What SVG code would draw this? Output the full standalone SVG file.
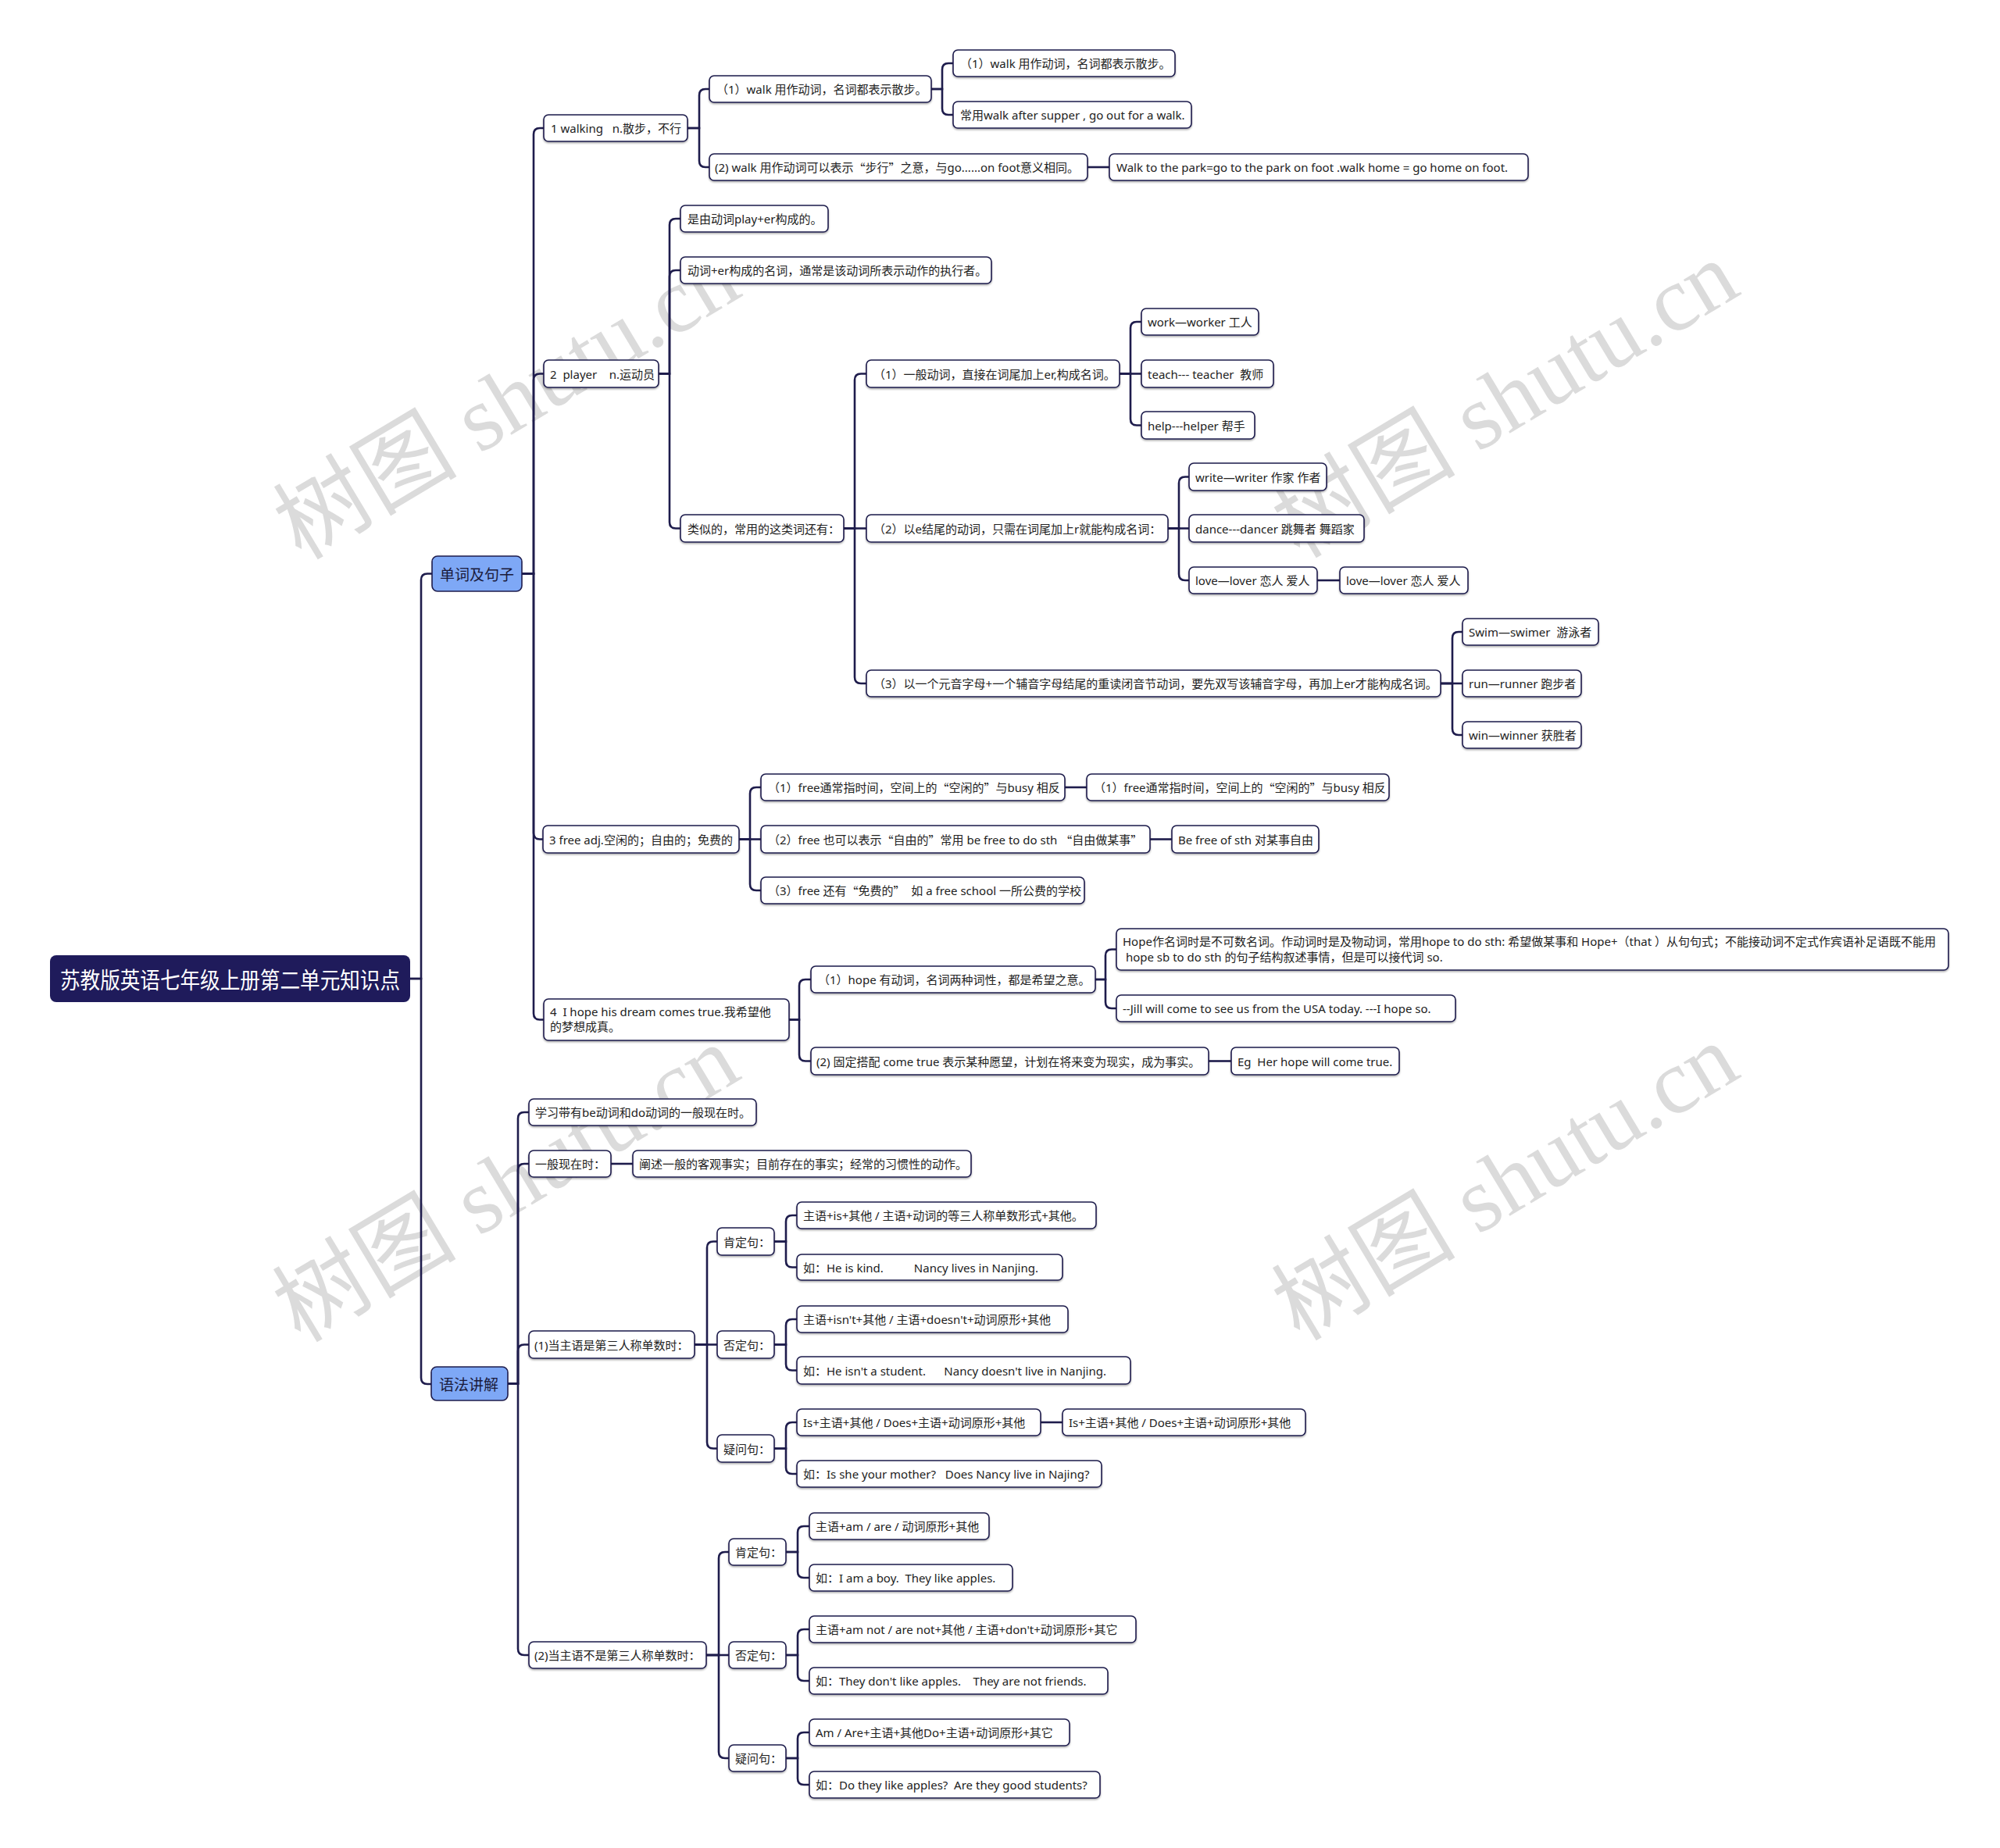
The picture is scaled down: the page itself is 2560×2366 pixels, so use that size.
<svg xmlns="http://www.w3.org/2000/svg" width="2560" height="2366" viewBox="0 0 2560 2366">
<defs>
<filter id="sh" x="-5%" y="-20%" width="110%" height="150%"><feDropShadow dx="0" dy="1.5" stdDeviation="1" flood-color="#000" flood-opacity="0.35"/></filter>
<style>
.n{fill:#fff;stroke:#1e1c4c;stroke-width:1.6;filter:url(#sh)}
.t{font-family:"Noto Sans","Noto Sans CJK SC",sans-serif;font-size:15px;fill:#222;dominant-baseline:central;white-space:pre}
.q{font-family:"Noto Sans CJK SC",sans-serif}
.c{fill:none;stroke:#1e1c4c;stroke-width:2.6}
.wm{font-family:"Liberation Serif","Noto Sans CJK SC",serif;font-size:118px;fill:#cfcfcf;opacity:0.75;text-anchor:middle;dominant-baseline:central}
</style>
</defs>
<rect width="2560" height="2366" fill="#fff"/>
<g id="watermarks">
<text class="wm" transform="translate(649,514) rotate(-31)">树图 shutu.cn</text>
<text class="wm" transform="translate(1927,512) rotate(-31)">树图 shutu.cn</text>
<text class="wm" transform="translate(648,1516) rotate(-31)">树图 shutu.cn</text>
<text class="wm" transform="translate(1927,1514) rotate(-31)">树图 shutu.cn</text>
</g>
<g id="connectors">
<path class="c" d="M525 1253 H539 V742.5 Q539 734.5 547 734.5 H553"/>
<path class="c" d="M525 1253 H539 V1764 Q539 1772 547 1772 H552"/>
<path class="c" d="M668 734.5 H683 V172 Q683 164 691 164 H696"/>
<path class="c" d="M668 734.5 H683 V486.5 Q683 478.5 691 478.5 H696"/>
<path class="c" d="M668 734.5 H683 V1066.5 Q683 1074.5 691 1074.5 H696"/>
<path class="c" d="M668 734.5 H683 V1297.5 Q683 1305.5 691 1305.5 H696"/>
<path class="c" d="M880 164 H895 V122 Q895 114 903 114 H908"/>
<path class="c" d="M880 164 H895 V206 Q895 214 903 214 H908"/>
<path class="c" d="M1192 114 H1206 V89 Q1206 81 1214 81 H1220"/>
<path class="c" d="M1192 114 H1206 V139 Q1206 147 1214 147 H1220"/>
<path class="c" d="M1392 214 H1420"/>
<path class="c" d="M843 478.5 H857 V288 Q857 280 865 280 H871"/>
<path class="c" d="M843 478.5 H857 V354 Q857 346 865 346 H871"/>
<path class="c" d="M843 478.5 H857 V668.5 Q857 676.5 865 676.5 H871"/>
<path class="c" d="M1080 676.5 H1094 V486.5 Q1094 478.5 1102 478.5 H1109"/>
<path class="c" d="M1080 676.5 H1109"/>
<path class="c" d="M1080 676.5 H1094 V867 Q1094 875 1102 875 H1109"/>
<path class="c" d="M1433 478.5 H1447 V420 Q1447 412 1455 412 H1461"/>
<path class="c" d="M1433 478.5 H1461"/>
<path class="c" d="M1433 478.5 H1447 V536.5 Q1447 544.5 1455 544.5 H1461"/>
<path class="c" d="M1495 676.5 H1509 V618.5 Q1509 610.5 1517 610.5 H1522"/>
<path class="c" d="M1495 676.5 H1522"/>
<path class="c" d="M1495 676.5 H1509 V735 Q1509 743 1517 743 H1522"/>
<path class="c" d="M1686 743 H1715"/>
<path class="c" d="M1844 875 H1859 V817 Q1859 809 1867 809 H1872"/>
<path class="c" d="M1844 875 H1872"/>
<path class="c" d="M1844 875 H1859 V933 Q1859 941 1867 941 H1872"/>
<path class="c" d="M946 1074.5 H960 V1016 Q960 1008 968 1008 H974"/>
<path class="c" d="M946 1074.5 H974"/>
<path class="c" d="M946 1074.5 H960 V1132 Q960 1140 968 1140 H974"/>
<path class="c" d="M1363 1008 H1391"/>
<path class="c" d="M1472 1074.5 H1500"/>
<path class="c" d="M1010 1305.5 H1023 V1262 Q1023 1254 1031 1254 H1038"/>
<path class="c" d="M1010 1305.5 H1023 V1350.5 Q1023 1358.5 1031 1358.5 H1038"/>
<path class="c" d="M1402 1254 H1415 V1223.5 Q1415 1215.5 1423 1215.5 H1429"/>
<path class="c" d="M1402 1254 H1415 V1283 Q1415 1291 1423 1291 H1429"/>
<path class="c" d="M1547 1358.5 H1576"/>
<path class="c" d="M650 1771.5 H663 V1432 Q663 1424 671 1424 H677"/>
<path class="c" d="M650 1771.5 H663 V1498 Q663 1490 671 1490 H677"/>
<path class="c" d="M650 1771.5 H663 V1729.5 Q663 1721.5 671 1721.5 H677"/>
<path class="c" d="M650 1771.5 H663 V2111 Q663 2119 671 2119 H677"/>
<path class="c" d="M782 1490 H810"/>
<path class="c" d="M889 1721.5 H905 V1597.5 Q905 1589.5 913 1589.5 H918"/>
<path class="c" d="M889 1721.5 H918"/>
<path class="c" d="M889 1721.5 H905 V1846.5 Q905 1854.5 913 1854.5 H918"/>
<path class="c" d="M991 1589.5 H1006 V1564 Q1006 1556 1014 1556 H1020"/>
<path class="c" d="M991 1589.5 H1006 V1614.5 Q1006 1622.5 1014 1622.5 H1020"/>
<path class="c" d="M991 1721.5 H1006 V1697 Q1006 1689 1014 1689 H1020"/>
<path class="c" d="M991 1721.5 H1006 V1746.5 Q1006 1754.5 1014 1754.5 H1020"/>
<path class="c" d="M991 1854.5 H1006 V1829 Q1006 1821 1014 1821 H1020"/>
<path class="c" d="M991 1854.5 H1006 V1879 Q1006 1887 1014 1887 H1020"/>
<path class="c" d="M1332 1821 H1360"/>
<path class="c" d="M904 2119 H920 V1995 Q920 1987 928 1987 H933"/>
<path class="c" d="M904 2119 H933"/>
<path class="c" d="M904 2119 H920 V2243 Q920 2251 928 2251 H933"/>
<path class="c" d="M1006 1987 H1021 V1962 Q1021 1954 1029 1954 H1036"/>
<path class="c" d="M1006 1987 H1021 V2012 Q1021 2020 1029 2020 H1036"/>
<path class="c" d="M1006 2119 H1021 V2094 Q1021 2086 1029 2086 H1036"/>
<path class="c" d="M1006 2119 H1021 V2144 Q1021 2152 1029 2152 H1036"/>
<path class="c" d="M1006 2251 H1021 V2226 Q1021 2218 1029 2218 H1036"/>
<path class="c" d="M1006 2251 H1021 V2277 Q1021 2285 1029 2285 H1036"/>
</g>
<g id="root"><rect x="64" y="1223" width="461" height="60" rx="8" fill="#1f1b5b"/><text x="77" y="1253" textLength="435" lengthAdjust="spacingAndGlyphs" style="font-family:'Noto Sans CJK SC',sans-serif;font-size:29px;fill:#fff;dominant-baseline:central">苏教版英语七年级上册第二单元知识点</text></g>
<g id="n-words"><rect x="553" y="712" width="115" height="45" rx="7" fill="#7ea8f6" stroke="#1e1c4c" stroke-width="1.6"/><text x="563" y="734.5" style="font-family:'Noto Sans CJK SC',sans-serif;font-size:19px;fill:#1a1a3a;dominant-baseline:central">单词及句子</text></g>
<g id="n-grammar"><rect x="552" y="1750" width="98" height="43" rx="7" fill="#7ea8f6" stroke="#1e1c4c" stroke-width="1.6"/><text x="562" y="1771.5" style="font-family:'Noto Sans CJK SC',sans-serif;font-size:19px;fill:#1a1a3a;dominant-baseline:central">语法讲解</text></g>

<g id="n-walking"><rect class="n" x="696" y="147" width="184" height="34" rx="6"/><text class="t" x="705" y="164">1 walking   n.散步，不行</text></g>
<g id="n-walk1"><rect class="n" x="908" y="97" width="284" height="34" rx="6"/><text class="t" x="917" y="114">（1）walk 用作动词，名词都表示散步。</text></g>
<g id="n-walk1a"><rect class="n" x="1220" y="64" width="284" height="34" rx="6"/><text class="t" x="1229" y="81">（1）walk 用作动词，名词都表示散步。</text></g>
<g id="n-walk1b"><rect class="n" x="1220" y="130" width="305" height="34" rx="6"/><text class="t" x="1229" y="147">常用walk after supper , go out for a walk.</text></g>
<g id="n-walk2"><rect class="n" x="908" y="197" width="484" height="34" rx="6"/><text class="t" x="915" y="214">(2) walk 用作动词可以表示<tspan class="q">“</tspan>步行<tspan class="q">”</tspan>之意，与go......on foot意义相同。</text></g>
<g id="n-walk2a"><rect class="n" x="1420" y="197" width="536" height="34" rx="6"/><text class="t" x="1429" y="214">Walk to the park=go to the park on foot .walk home = go home on foot.</text></g>

<g id="n-player"><rect class="n" x="696" y="461" width="147" height="35" rx="6"/><text class="t" x="704" y="478.5">2  player    n.运动员</text></g>
<g id="n-p1"><rect class="n" x="871" y="263" width="189" height="34" rx="6"/><text class="t" x="880" y="280">是由动词play+er构成的。</text></g>
<g id="n-p2"><rect class="n" x="871" y="329" width="398" height="34" rx="6"/><text class="t" x="880" y="346">动词+er构成的名词，通常是该动词所表示动作的执行者。</text></g>
<g id="n-p3"><rect class="n" x="871" y="659" width="209" height="35" rx="6"/><text class="t" x="880" y="676.5">类似的，常用的这类词还有：</text></g>
<g id="n-p3a"><rect class="n" x="1109" y="461" width="324" height="35" rx="6"/><text class="t" x="1118" y="478.5">（1）一般动词，直接在词尾加上er,构成名词。</text></g>
<g id="n-work"><rect class="n" x="1461" y="395" width="150" height="34" rx="6"/><text class="t" x="1469" y="412">work—worker 工人</text></g>
<g id="n-teach"><rect class="n" x="1461" y="461" width="169" height="35" rx="6"/><text class="t" x="1469" y="478.5">teach--- teacher  教师</text></g>
<g id="n-help"><rect class="n" x="1461" y="527" width="145" height="35" rx="6"/><text class="t" x="1469" y="544.5">help---helper 帮手</text></g>
<g id="n-p3b"><rect class="n" x="1109" y="659" width="386" height="35" rx="6"/><text class="t" x="1118" y="676.5">（2）以e结尾的动词，只需在词尾加上r就能构成名词：</text></g>
<g id="n-write"><rect class="n" x="1522" y="593" width="176" height="35" rx="6"/><text class="t" x="1530" y="610.5">write—writer 作家 作者</text></g>
<g id="n-dance"><rect class="n" x="1522" y="659" width="224" height="35" rx="6"/><text class="t" x="1530" y="676.5">dance---dancer 跳舞者 舞蹈家</text></g>
<g id="n-love"><rect class="n" x="1522" y="726" width="164" height="34" rx="6"/><text class="t" x="1530" y="743">love—lover 恋人 爱人</text></g>
<g id="n-love2"><rect class="n" x="1715" y="726" width="164" height="34" rx="6"/><text class="t" x="1723" y="743">love—lover 恋人 爱人</text></g>
<g id="n-p3c"><rect class="n" x="1109" y="858" width="735" height="34" rx="6"/><text class="t" x="1118" y="875">（3）以一个元音字母+一个辅音字母结尾的重读闭音节动词，要先双写该辅音字母，再加上er才能构成名词。</text></g>
<g id="n-swim"><rect class="n" x="1872" y="792" width="174" height="34" rx="6"/><text class="t" x="1880" y="809">Swim—swimer  游泳者</text></g>
<g id="n-run"><rect class="n" x="1872" y="858" width="152" height="34" rx="6"/><text class="t" x="1880" y="875">run—runner 跑步者</text></g>
<g id="n-win"><rect class="n" x="1872" y="924" width="152" height="34" rx="6"/><text class="t" x="1880" y="941">win—winner 获胜者</text></g>

<g id="n-free"><rect class="n" x="695" y="1057" width="251" height="35" rx="6"/><text class="t" x="703" y="1074.5">3 free adj.空闲的；自由的；免费的</text></g>
<g id="n-f1"><rect class="n" x="974" y="991" width="389" height="34" rx="6"/><text class="t" x="983" y="1008">（1）free通常指时间，空间上的<tspan class="q">“</tspan>空闲的<tspan class="q">”</tspan>与busy 相反</text></g>
<g id="n-f1a"><rect class="n" x="1391" y="991" width="387" height="34" rx="6"/><text class="t" x="1400" y="1008">（1）free通常指时间，空间上的<tspan class="q">“</tspan>空闲的<tspan class="q">”</tspan>与busy 相反</text></g>
<g id="n-f2"><rect class="n" x="974" y="1057" width="498" height="35" rx="6"/><text class="t" x="983" y="1074.5">（2）free 也可以表示<tspan class="q">“</tspan>自由的<tspan class="q">”</tspan>常用 be free to do sth <tspan class="q">“</tspan>自由做某事<tspan class="q">”</tspan></text></g>
<g id="n-f2a"><rect class="n" x="1500" y="1057" width="188" height="35" rx="6"/><text class="t" x="1508" y="1074.5">Be free of sth 对某事自由</text></g>
<g id="n-f3"><rect class="n" x="974" y="1123" width="414" height="34" rx="6"/><text class="t" x="983" y="1140">（3）free 还有<tspan class="q">“</tspan>免费的<tspan class="q">”</tspan>  如 a free school 一所公费的学校</text></g>

<g id="n-hope"><rect class="n" x="696" y="1279" width="314" height="53" rx="6"/><text class="t" x="704" y="1295">4  I hope his dream comes true.我希望他</text><text class="t" x="704" y="1314">的梦想成真。</text></g>
<g id="n-h1"><rect class="n" x="1038" y="1237" width="364" height="34" rx="6"/><text class="t" x="1047" y="1254">（1）hope 有动词，名词两种词性，都是希望之意。</text></g>
<g id="n-h1a"><rect class="n" x="1429" y="1189" width="1065" height="53" rx="6"/><text class="t" x="1437" y="1205">Hope作名词时是不可数名词。作动词时是及物动词，常用hope to do sth: 希望做某事和 Hope+（that ）从句句式；不能接动词不定式作宾语补足语既不能用</text><text class="t" x="1437" y="1225"> hope sb to do sth 的句子结构叙述事情，但是可以接代词 so.</text></g>
<g id="n-h1b"><rect class="n" x="1429" y="1274" width="434" height="34" rx="6"/><text class="t" x="1437" y="1291">--Jill will come to see us from the USA today. ---I hope so.</text></g>
<g id="n-h2"><rect class="n" x="1038" y="1341" width="509" height="35" rx="6"/><text class="t" x="1045" y="1358.5">(2) 固定搭配 come true 表示某种愿望，计划在将来变为现实，成为事实。</text></g>
<g id="n-h2a"><rect class="n" x="1576" y="1341" width="215" height="35" rx="6"/><text class="t" x="1584" y="1358.5">Eg  Her hope will come true.</text></g>

<g id="n-g1"><rect class="n" x="677" y="1407" width="291" height="34" rx="6"/><text class="t" x="685" y="1424">学习带有be动词和do动词的一般现在时。</text></g>
<g id="n-g2"><rect class="n" x="677" y="1473" width="105" height="34" rx="6"/><text class="t" x="685" y="1490">一般现在时：</text></g>
<g id="n-g2a"><rect class="n" x="810" y="1473" width="433" height="34" rx="6"/><text class="t" x="818" y="1490">阐述一般的客观事实；目前存在的事实；经常的习惯性的动作。</text></g>
<g id="n-g3"><rect class="n" x="677" y="1704" width="212" height="35" rx="6"/><text class="t" x="684" y="1721.5">(1)当主语是第三人称单数时：</text></g>
<g id="n-k1"><rect class="n" x="918" y="1572" width="73" height="35" rx="6"/><text class="t" x="926" y="1589.5">肯定句：</text></g>
<g id="n-k1a"><rect class="n" x="1020" y="1539" width="383" height="34" rx="6"/><text class="t" x="1028" y="1556">主语+is+其他 / 主语+动词的等三人称单数形式+其他。</text></g>
<g id="n-k1b"><rect class="n" x="1020" y="1606" width="340" height="33" rx="6"/><text class="t" x="1028" y="1622.5">如：He is kind.          Nancy lives in Nanjing.</text></g>
<g id="n-k2"><rect class="n" x="918" y="1704" width="73" height="35" rx="6"/><text class="t" x="926" y="1721.5">否定句：</text></g>
<g id="n-k2a"><rect class="n" x="1020" y="1672" width="347" height="34" rx="6"/><text class="t" x="1028" y="1689">主语+isn't+其他 / 主语+doesn't+动词原形+其他</text></g>
<g id="n-k2b"><rect class="n" x="1020" y="1737" width="427" height="35" rx="6"/><text class="t" x="1028" y="1754.5">如：He isn't a student.      Nancy doesn't live in Nanjing.</text></g>
<g id="n-k3"><rect class="n" x="918" y="1837" width="73" height="35" rx="6"/><text class="t" x="926" y="1854.5">疑问句：</text></g>
<g id="n-k3a"><rect class="n" x="1020" y="1804" width="312" height="34" rx="6"/><text class="t" x="1028" y="1821">Is+主语+其他 / Does+主语+动词原形+其他</text></g>
<g id="n-k3a2"><rect class="n" x="1360" y="1804" width="311" height="34" rx="6"/><text class="t" x="1368" y="1821">Is+主语+其他 / Does+主语+动词原形+其他</text></g>
<g id="n-k3b"><rect class="n" x="1020" y="1870" width="390" height="34" rx="6"/><text class="t" x="1028" y="1887">如：Is she your mother?   Does Nancy live in Najing?</text></g>
<g id="n-g4"><rect class="n" x="677" y="2102" width="227" height="34" rx="6"/><text class="t" x="684" y="2119">(2)当主语不是第三人称单数时：</text></g>
<g id="n-m1"><rect class="n" x="933" y="1970" width="73" height="34" rx="6"/><text class="t" x="941" y="1987">肯定句：</text></g>
<g id="n-m1a"><rect class="n" x="1036" y="1937" width="230" height="34" rx="6"/><text class="t" x="1044" y="1954">主语+am / are / 动词原形+其他</text></g>
<g id="n-m1b"><rect class="n" x="1036" y="2003" width="260" height="34" rx="6"/><text class="t" x="1044" y="2020">如：I am a boy.  They like apples.</text></g>
<g id="n-m2"><rect class="n" x="933" y="2102" width="73" height="34" rx="6"/><text class="t" x="941" y="2119">否定句：</text></g>
<g id="n-m2a"><rect class="n" x="1036" y="2069" width="418" height="34" rx="6"/><text class="t" x="1044" y="2086">主语+am not / are not+其他 / 主语+don't+动词原形+其它</text></g>
<g id="n-m2b"><rect class="n" x="1036" y="2135" width="382" height="34" rx="6"/><text class="t" x="1044" y="2152">如：They don't like apples.    They are not friends.</text></g>
<g id="n-m3"><rect class="n" x="933" y="2234" width="73" height="34" rx="6"/><text class="t" x="941" y="2251">疑问句：</text></g>
<g id="n-m3a"><rect class="n" x="1036" y="2201" width="333" height="34" rx="6"/><text class="t" x="1044" y="2218">Am / Are+主语+其他Do+主语+动词原形+其它</text></g>
<g id="n-m3b"><rect class="n" x="1036" y="2268" width="372" height="34" rx="6"/><text class="t" x="1044" y="2285">如：Do they like apples?  Are they good students?</text></g>
</svg>
